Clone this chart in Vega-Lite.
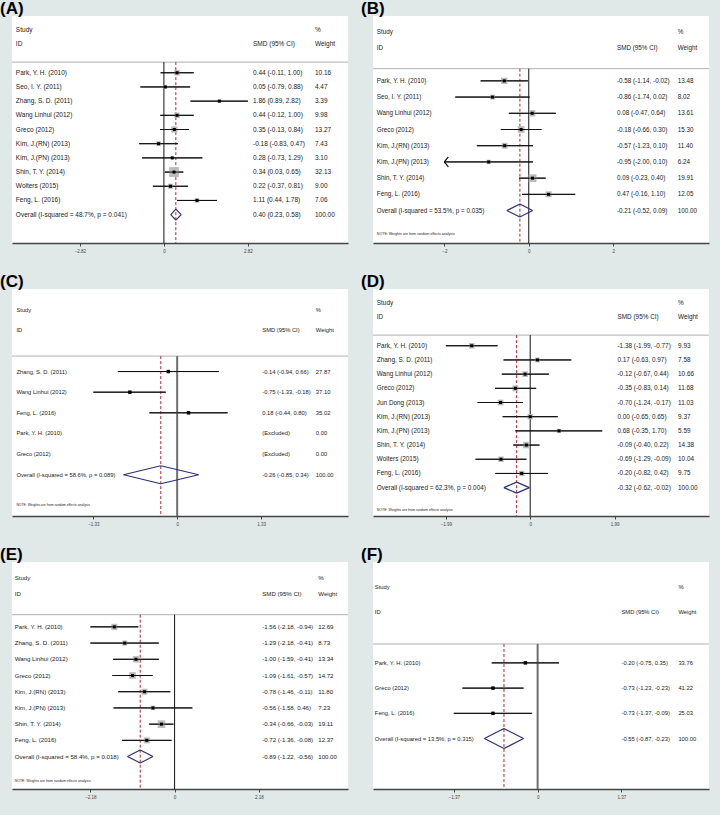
{
"$schema": "https://vega.github.io/schema/vega-lite/v6.json",
"background": "#e1e8e8",
"padding": {"left": 0, "top": 0, "right": 11, "bottom": 17},
"columns": 2,
"spacing": {"row": 46, "column": 25},
"bounds": "flush",
"config": {
 "view": {"fill": "#ffffff", "stroke": null},
 "font": "Liberation Sans",
 "title": {"fontSize": 17, "fontWeight": "bold", "font": "Liberation Sans", "anchor": "start", "dx": -12, "offset": -2, "color": "#000000", "frame": "group"},
 "axisX": {"grid": false, "domainColor": "#444444", "domainWidth": 1.3, "tickColor": "#444444", "tickSize": 3, "tickWidth": 1, "labelFontSize": 4.5, "labelColor": "#444444", "labelPadding": 2, "labelFont": "Liberation Sans"},
 "text": {"color": "#222222", "baseline": "middle", "font": "Liberation Sans"}
},
"datasets": {
 "A": [
  {"order": 1, "kind": "study", "study": "Park, Y. H. (2010)", "smd": 0.44, "lo": -0.11, "hi": 1.00, "w": 10.16, "ci": "0.44 (-0.11, 1.00)"},
  {"order": 2, "kind": "study", "study": "Seo, I. Y. (2011)", "smd": 0.05, "lo": -0.79, "hi": 0.88, "w": 4.47, "ci": "0.05 (-0.79, 0.88)"},
  {"order": 3, "kind": "study", "study": "Zhang, S. D. (2011)", "smd": 1.86, "lo": 0.89, "hi": 2.82, "w": 3.39, "ci": "1.86 (0.89, 2.82)"},
  {"order": 4, "kind": "study", "study": "Wang Linhui (2012)", "smd": 0.44, "lo": -0.12, "hi": 1.00, "w": 9.98, "ci": "0.44 (-0.12, 1.00)"},
  {"order": 5, "kind": "study", "study": "Greco (2012)", "smd": 0.35, "lo": -0.13, "hi": 0.84, "w": 13.27, "ci": "0.35 (-0.13, 0.84)"},
  {"order": 6, "kind": "study", "study": "Kim, J.(RN) (2013)", "smd": -0.18, "lo": -0.83, "hi": 0.47, "w": 7.43, "ci": "-0.18 (-0.83, 0.47)"},
  {"order": 7, "kind": "study", "study": "Kim, J.(PN) (2013)", "smd": 0.28, "lo": -0.73, "hi": 1.29, "w": 3.10, "ci": "0.28 (-0.73, 1.29)"},
  {"order": 8, "kind": "study", "study": "Shin, T. Y. (2014)", "smd": 0.34, "lo": 0.03, "hi": 0.65, "w": 32.13, "ci": "0.34 (0.03, 0.65)"},
  {"order": 9, "kind": "study", "study": "Wolters (2015)", "smd": 0.22, "lo": -0.37, "hi": 0.81, "w": 9.00, "ci": "0.22 (-0.37, 0.81)"},
  {"order": 10, "kind": "study", "study": "Feng, L. (2016)", "smd": 1.11, "lo": 0.44, "hi": 1.78, "w": 7.06, "ci": "1.11 (0.44, 1.78)"},
  {"order": 11, "kind": "overall", "study": "Overall  (I-squared = 48.7%, p = 0.041)", "smd": 0.40, "lo": 0.23, "hi": 0.58, "w": 100.00, "ci": "0.40 (0.23, 0.58)"}
 ],
 "B": [
  {"order": 1, "kind": "study", "study": "Park, Y. H. (2010)", "smd": -0.58, "lo": -1.14, "hi": -0.02, "w": 13.48, "ci": "-0.58 (-1.14, -0.02)"},
  {"order": 2, "kind": "study", "study": "Seo, I. Y. (2011)", "smd": -0.86, "lo": -1.74, "hi": 0.02, "w": 8.02, "ci": "-0.86 (-1.74, 0.02)"},
  {"order": 3, "kind": "study", "study": "Wang Linhui (2012)", "smd": 0.08, "lo": -0.47, "hi": 0.64, "w": 13.61, "ci": "0.08 (-0.47, 0.64)"},
  {"order": 4, "kind": "study", "study": "Greco (2012)", "smd": -0.18, "lo": -0.66, "hi": 0.30, "w": 15.30, "ci": "-0.18 (-0.66, 0.30)"},
  {"order": 5, "kind": "study", "study": "Kim, J.(RN) (2013)", "smd": -0.57, "lo": -1.23, "hi": 0.10, "w": 11.40, "ci": "-0.57 (-1.23, 0.10)"},
  {"order": 6, "kind": "study", "study": "Kim, J.(PN) (2013)", "smd": -0.95, "lo": -2.00, "hi": 0.10, "w": 6.24, "ci": "-0.95 (-2.00, 0.10)"},
  {"order": 7, "kind": "study", "study": "Shin, T. Y. (2014)", "smd": 0.09, "lo": -0.23, "hi": 0.40, "w": 19.91, "ci": "0.09 (-0.23, 0.40)"},
  {"order": 8, "kind": "study", "study": "Feng, L. (2016)", "smd": 0.47, "lo": -0.16, "hi": 1.10, "w": 12.05, "ci": "0.47 (-0.16, 1.10)"},
  {"order": 9, "kind": "overall", "study": "Overall  (I-squared = 53.5%, p = 0.035)", "smd": -0.21, "lo": -0.52, "hi": 0.09, "w": 100.00, "ci": "-0.21 (-0.52, 0.09)"}
 ],
 "C": [
  {"order": 1, "kind": "study", "study": "Zhang, S. D. (2011)", "smd": -0.14, "lo": -0.94, "hi": 0.66, "w": 27.87, "ci": "-0.14 (-0.94, 0.66)"},
  {"order": 2, "kind": "study", "study": "Wang Linhui (2012)", "smd": -0.75, "lo": -1.33, "hi": -0.18, "w": 37.10, "ci": "-0.75 (-1.33, -0.18)"},
  {"order": 3, "kind": "study", "study": "Feng, L. (2016)", "smd": 0.18, "lo": -0.44, "hi": 0.80, "w": 35.02, "ci": "0.18 (-0.44, 0.80)"},
  {"order": 4, "kind": "excluded", "study": "Park, Y. H. (2010)", "smd": null, "lo": null, "hi": null, "w": 0.00, "ci": "(Excluded)"},
  {"order": 5, "kind": "excluded", "study": "Greco (2012)", "smd": null, "lo": null, "hi": null, "w": 0.00, "ci": "(Excluded)"},
  {"order": 6, "kind": "overall", "study": "Overall  (I-squared = 58.6%, p = 0.089)", "smd": -0.26, "lo": -0.85, "hi": 0.34, "w": 100.00, "ci": "-0.26 (-0.85, 0.34)"}
 ],
 "D": [
  {"order": 1, "kind": "study", "study": "Park, Y. H. (2010)", "smd": -1.38, "lo": -1.99, "hi": -0.77, "w": 9.93, "ci": "-1.38 (-1.99, -0.77)"},
  {"order": 2, "kind": "study", "study": "Zhang, S. D. (2011)", "smd": 0.17, "lo": -0.63, "hi": 0.97, "w": 7.58, "ci": "0.17 (-0.63, 0.97)"},
  {"order": 3, "kind": "study", "study": "Wang Linhui (2012)", "smd": -0.12, "lo": -0.67, "hi": 0.44, "w": 10.66, "ci": "-0.12 (-0.67, 0.44)"},
  {"order": 4, "kind": "study", "study": "Greco (2012)", "smd": -0.35, "lo": -0.83, "hi": 0.14, "w": 11.68, "ci": "-0.35 (-0.83, 0.14)"},
  {"order": 5, "kind": "study", "study": "Jun Dong (2013)", "smd": -0.70, "lo": -1.24, "hi": -0.17, "w": 11.03, "ci": "-0.70 (-1.24, -0.17)"},
  {"order": 6, "kind": "study", "study": "Kim, J.(RN) (2013)", "smd": 0.00, "lo": -0.65, "hi": 0.65, "w": 9.37, "ci": "0.00 (-0.65, 0.65)"},
  {"order": 7, "kind": "study", "study": "Kim, J.(PN) (2013)", "smd": 0.68, "lo": -0.35, "hi": 1.70, "w": 5.59, "ci": "0.68 (-0.35, 1.70)"},
  {"order": 8, "kind": "study", "study": "Shin, T. Y. (2014)", "smd": -0.09, "lo": -0.40, "hi": 0.22, "w": 14.38, "ci": "-0.09 (-0.40, 0.22)"},
  {"order": 9, "kind": "study", "study": "Wolters (2015)", "smd": -0.69, "lo": -1.29, "hi": -0.09, "w": 10.04, "ci": "-0.69 (-1.29, -0.09)"},
  {"order": 10, "kind": "study", "study": "Feng, L. (2016)", "smd": -0.20, "lo": -0.82, "hi": 0.42, "w": 9.75, "ci": "-0.20 (-0.82, 0.42)"},
  {"order": 11, "kind": "overall", "study": "Overall  (I-squared = 62.3%, p = 0.004)", "smd": -0.32, "lo": -0.62, "hi": -0.02, "w": 100.00, "ci": "-0.32 (-0.62, -0.02)"}
 ],
 "E": [
  {"order": 1, "kind": "study", "study": "Park, Y. H. (2010)", "smd": -1.56, "lo": -2.18, "hi": -0.94, "w": 12.69, "ci": "-1.56 (-2.18, -0.94)"},
  {"order": 2, "kind": "study", "study": "Zhang, S. D. (2011)", "smd": -1.29, "lo": -2.18, "hi": -0.41, "w": 8.73, "ci": "-1.29 (-2.18, -0.41)"},
  {"order": 3, "kind": "study", "study": "Wang Linhui (2012)", "smd": -1.00, "lo": -1.59, "hi": -0.41, "w": 13.34, "ci": "-1.00 (-1.59, -0.41)"},
  {"order": 4, "kind": "study", "study": "Greco (2012)", "smd": -1.09, "lo": -1.61, "hi": -0.57, "w": 14.72, "ci": "-1.09 (-1.61, -0.57)"},
  {"order": 5, "kind": "study", "study": "Kim, J.(RN) (2013)", "smd": -0.78, "lo": -1.46, "hi": -0.11, "w": 11.80, "ci": "-0.78 (-1.46, -0.11)"},
  {"order": 6, "kind": "study", "study": "Kim, J.(PN) (2013)", "smd": -0.56, "lo": -1.58, "hi": 0.46, "w": 7.23, "ci": "-0.56 (-1.58, 0.46)"},
  {"order": 7, "kind": "study", "study": "Shin, T. Y. (2014)", "smd": -0.34, "lo": -0.66, "hi": -0.03, "w": 19.11, "ci": "-0.34 (-0.66, -0.03)"},
  {"order": 8, "kind": "study", "study": "Feng, L. (2016)", "smd": -0.72, "lo": -1.36, "hi": -0.08, "w": 12.37, "ci": "-0.72 (-1.36, -0.08)"},
  {"order": 9, "kind": "overall", "study": "Overall  (I-squared = 58.4%, p = 0.018)", "smd": -0.89, "lo": -1.22, "hi": -0.56, "w": 100.00, "ci": "-0.89 (-1.22, -0.56)"}
 ],
 "F": [
  {"order": 1, "kind": "study", "study": "Park, Y. H. (2010)", "smd": -0.20, "lo": -0.75, "hi": 0.35, "w": 33.76, "ci": "-0.20 (-0.75, 0.35)"},
  {"order": 2, "kind": "study", "study": "Greco (2012)", "smd": -0.73, "lo": -1.23, "hi": -0.23, "w": 41.22, "ci": "-0.73 (-1.23, -0.23)"},
  {"order": 3, "kind": "study", "study": "Feng, L. (2016)", "smd": -0.73, "lo": -1.37, "hi": -0.09, "w": 25.03, "ci": "-0.73 (-1.37, -0.09)"},
  {"order": 4, "kind": "overall", "study": "Overall  (I-squared = 13.5%, p = 0.315)", "smd": -0.55, "lo": -0.87, "hi": -0.23, "w": 100.00, "ci": "-0.55 (-0.87, -0.23)"}
 ]
},
"concat": [
 {
  "title": "(A)", "width": 336, "height": 227, "data": {"name": "A"},
  "resolve": {"axis": {"x": "independent"}},
  "layer": [
   {"data": {"values": [{}]}, "mark": {"type": "rule", "color": "#b0b0b0", "strokeWidth": 1}, "encoding": {"y": {"datum": 0.25, "type": "quantitative", "axis": null, "scale": {"domain": [-3, 13], "reverse": true, "nice": false, "zero": false}}}},
   {"transform": [{"filter": "datum.kind=='study'"}], "mark": {"type": "rule", "color": "#111111", "strokeWidth": 1}, "encoding": {"x": {"field": "lo", "type": "quantitative", "title": null, "scale": {"domain": [-5.10, 6.18], "nice": false, "zero": false}, "axis": {"orient": "bottom", "values": [-2.82, 0, 2.82], "labelExpr": "datum.value == 0 ? '0' : format(datum.value, '.2f')"}}, "x2": {"field": "hi"}, "y": {"field": "order", "type": "quantitative", "axis": null}}},
   {"data": {"values": [{}]}, "mark": {"type": "rule", "color": "#111111", "strokeWidth": 1}, "encoding": {"x": {"datum": 0, "type": "quantitative", "axis": null}, "y": {"datum": 0.25, "type": "quantitative", "axis": null}, "y2": {"datum": 13}}},
   {"data": {"values": [{}]}, "mark": {"type": "rule", "color": "#b3262f", "strokeWidth": 1, "strokeDash": [3, 2]}, "encoding": {"x": {"datum": 0.40, "type": "quantitative", "axis": null}, "y": {"datum": 0.25, "type": "quantitative", "axis": null}, "y2": {"datum": 13}}},
   {"transform": [{"filter": "datum.kind=='study'"}], "mark": {"type": "point", "shape": "square", "filled": true, "color": "#bbbbbb", "opacity": 1}, "encoding": {"x": {"field": "smd", "type": "quantitative", "axis": null}, "y": {"field": "order", "type": "quantitative", "axis": null}, "size": {"field": "w", "type": "quantitative", "scale": {"domain": [0, 100], "range": [0, 300]}, "legend": null}}},
   {"transform": [{"filter": "datum.kind=='study'"}], "mark": {"type": "rule", "color": "#111111", "strokeWidth": 1}, "encoding": {"x": {"field": "lo", "type": "quantitative", "axis": null}, "x2": {"field": "hi"}, "y": {"field": "order", "type": "quantitative", "axis": null}}},
   {"transform": [{"filter": "datum.kind=='study'"}], "mark": {"type": "point", "shape": "square", "filled": true, "color": "#000000", "size": 9, "opacity": 1}, "encoding": {"x": {"field": "smd", "type": "quantitative", "axis": null}, "y": {"field": "order", "type": "quantitative", "axis": null}}},
   {"transform": [{"filter": "datum.kind=='overall'"}], "mark": {"type": "rule", "color": "#2d2f73", "strokeWidth": 1.2, "y2Offset": -5.5}, "encoding": {"x": {"field": "lo", "type": "quantitative", "axis": null}, "x2": {"field": "smd"}, "y": {"field": "order", "type": "quantitative", "axis": null}, "y2": {"field": "order"}}},
   {"transform": [{"filter": "datum.kind=='overall'"}], "mark": {"type": "rule", "color": "#2d2f73", "strokeWidth": 1.2, "y2Offset": 5.5}, "encoding": {"x": {"field": "lo", "type": "quantitative", "axis": null}, "x2": {"field": "smd"}, "y": {"field": "order", "type": "quantitative", "axis": null}, "y2": {"field": "order"}}},
   {"transform": [{"filter": "datum.kind=='overall'"}], "mark": {"type": "rule", "color": "#2d2f73", "strokeWidth": 1.2, "y2Offset": -5.5}, "encoding": {"x": {"field": "hi", "type": "quantitative", "axis": null}, "x2": {"field": "smd"}, "y": {"field": "order", "type": "quantitative", "axis": null}, "y2": {"field": "order"}}},
   {"transform": [{"filter": "datum.kind=='overall'"}], "mark": {"type": "rule", "color": "#2d2f73", "strokeWidth": 1.2, "y2Offset": 5.5}, "encoding": {"x": {"field": "hi", "type": "quantitative", "axis": null}, "x2": {"field": "smd"}, "y": {"field": "order", "type": "quantitative", "axis": null}, "y2": {"field": "order"}}},
   {"mark": {"type": "text", "align": "left", "fontSize": 6.5}, "encoding": {"x": {"datum": -4.97, "type": "quantitative", "axis": null}, "y": {"field": "order", "type": "quantitative", "axis": null}, "text": {"field": "study"}}},
   {"mark": {"type": "text", "align": "left", "fontSize": 6.5}, "encoding": {"x": {"datum": 2.99, "type": "quantitative", "axis": null}, "y": {"field": "order", "type": "quantitative", "axis": null}, "text": {"field": "ci"}}},
   {"mark": {"type": "text", "align": "left", "fontSize": 6.5}, "encoding": {"x": {"datum": 5.07, "type": "quantitative", "axis": null}, "y": {"field": "order", "type": "quantitative", "axis": null}, "text": {"field": "w", "type": "quantitative", "format": ".2f"}}},
   {"data": {"values": [{}]}, "mark": {"type": "text", "align": "left", "fontSize": 6.5, "text": "Study"}, "encoding": {"x": {"datum": -4.97, "type": "quantitative", "axis": null}, "y": {"datum": -2, "type": "quantitative", "axis": null}}},
   {"data": {"values": [{}]}, "mark": {"type": "text", "align": "left", "fontSize": 6.5, "text": "ID"}, "encoding": {"x": {"datum": -4.97, "type": "quantitative", "axis": null}, "y": {"datum": -1, "type": "quantitative", "axis": null}}},
   {"data": {"values": [{}]}, "mark": {"type": "text", "align": "left", "fontSize": 6.5, "text": "SMD (95% CI)"}, "encoding": {"x": {"datum": 2.99, "type": "quantitative", "axis": null}, "y": {"datum": -1, "type": "quantitative", "axis": null}}},
   {"data": {"values": [{}]}, "mark": {"type": "text", "align": "left", "fontSize": 6.5, "text": "%"}, "encoding": {"x": {"datum": 5.07, "type": "quantitative", "axis": null}, "y": {"datum": -2, "type": "quantitative", "axis": null}}},
   {"data": {"values": [{}]}, "mark": {"type": "text", "align": "left", "fontSize": 6.5, "text": "Weight"}, "encoding": {"x": {"datum": 5.07, "type": "quantitative", "axis": null}, "y": {"datum": -1, "type": "quantitative", "axis": null}}}
  ]
 },
 {
  "title": "(B)", "width": 336, "height": 227, "data": {"name": "B"},
  "resolve": {"axis": {"x": "independent"}},
  "layer": [
   {"data": {"values": [{}]}, "mark": {"type": "rule", "color": "#b0b0b0", "strokeWidth": 1}, "encoding": {"y": {"datum": 0.25, "type": "quantitative", "axis": null, "scale": {"domain": [-3, 11], "reverse": true, "nice": false, "zero": false}}}},
   {"transform": [{"filter": "datum.kind=='study'"}], "mark": {"type": "rule", "color": "#111111", "strokeWidth": 1}, "encoding": {"x": {"field": "lo", "type": "quantitative", "title": null, "scale": {"domain": [-3.69, 4.27], "nice": false, "zero": false}, "axis": {"orient": "bottom", "values": [-2, 0, 2], "labelExpr": "format(datum.value, 'd')"}}, "x2": {"field": "hi"}, "y": {"field": "order", "type": "quantitative", "axis": null}}},
   {"data": {"values": [{}]}, "mark": {"type": "rule", "color": "#111111", "strokeWidth": 1}, "encoding": {"x": {"datum": 0, "type": "quantitative", "axis": null}, "y": {"datum": 0.25, "type": "quantitative", "axis": null}, "y2": {"datum": 11}}},
   {"data": {"values": [{}]}, "mark": {"type": "rule", "color": "#b3262f", "strokeWidth": 1, "strokeDash": [3, 2]}, "encoding": {"x": {"datum": -0.21, "type": "quantitative", "axis": null}, "y": {"datum": 0.25, "type": "quantitative", "axis": null}, "y2": {"datum": 11}}},
   {"transform": [{"filter": "datum.kind=='study'"}], "mark": {"type": "point", "shape": "square", "filled": true, "color": "#bbbbbb", "opacity": 1}, "encoding": {"x": {"field": "smd", "type": "quantitative", "axis": null}, "y": {"field": "order", "type": "quantitative", "axis": null}, "size": {"field": "w", "type": "quantitative", "scale": {"domain": [0, 100], "range": [0, 160]}, "legend": null}}},
   {"transform": [{"filter": "datum.kind=='study'"}], "mark": {"type": "rule", "color": "#111111", "strokeWidth": 1}, "encoding": {"x": {"field": "lo", "type": "quantitative", "axis": null}, "x2": {"field": "hi"}, "y": {"field": "order", "type": "quantitative", "axis": null}}},
   {"transform": [{"filter": "datum.kind=='study' && datum.lo <= -2"}], "mark": {"type": "point", "shape": "M0,0L0.8,-1M0,0L0.8,1", "filled": false, "color": "#111111", "strokeWidth": 1.2, "size": 100, "opacity": 1}, "encoding": {"x": {"field": "lo", "type": "quantitative", "axis": null}, "y": {"field": "order", "type": "quantitative", "axis": null}}},
   {"transform": [{"filter": "datum.kind=='study'"}], "mark": {"type": "point", "shape": "square", "filled": true, "color": "#000000", "size": 9, "opacity": 1}, "encoding": {"x": {"field": "smd", "type": "quantitative", "axis": null}, "y": {"field": "order", "type": "quantitative", "axis": null}}},
   {"transform": [{"filter": "datum.kind=='overall'"}], "mark": {"type": "rule", "color": "#2d2f73", "strokeWidth": 1.2, "y2Offset": -6.5}, "encoding": {"x": {"field": "lo", "type": "quantitative", "axis": null}, "x2": {"field": "smd"}, "y": {"field": "order", "type": "quantitative", "axis": null}, "y2": {"field": "order"}}},
   {"transform": [{"filter": "datum.kind=='overall'"}], "mark": {"type": "rule", "color": "#2d2f73", "strokeWidth": 1.2, "y2Offset": 6.5}, "encoding": {"x": {"field": "lo", "type": "quantitative", "axis": null}, "x2": {"field": "smd"}, "y": {"field": "order", "type": "quantitative", "axis": null}, "y2": {"field": "order"}}},
   {"transform": [{"filter": "datum.kind=='overall'"}], "mark": {"type": "rule", "color": "#2d2f73", "strokeWidth": 1.2, "y2Offset": -6.5}, "encoding": {"x": {"field": "hi", "type": "quantitative", "axis": null}, "x2": {"field": "smd"}, "y": {"field": "order", "type": "quantitative", "axis": null}, "y2": {"field": "order"}}},
   {"transform": [{"filter": "datum.kind=='overall'"}], "mark": {"type": "rule", "color": "#2d2f73", "strokeWidth": 1.2, "y2Offset": 6.5}, "encoding": {"x": {"field": "hi", "type": "quantitative", "axis": null}, "x2": {"field": "smd"}, "y": {"field": "order", "type": "quantitative", "axis": null}, "y2": {"field": "order"}}},
   {"mark": {"type": "text", "align": "left", "fontSize": 6.3}, "encoding": {"x": {"datum": -3.60, "type": "quantitative", "axis": null}, "y": {"field": "order", "type": "quantitative", "axis": null}, "text": {"field": "study"}}},
   {"mark": {"type": "text", "align": "left", "fontSize": 6.3}, "encoding": {"x": {"datum": 2.09, "type": "quantitative", "axis": null}, "y": {"field": "order", "type": "quantitative", "axis": null}, "text": {"field": "ci"}}},
   {"mark": {"type": "text", "align": "left", "fontSize": 6.3}, "encoding": {"x": {"datum": 3.53, "type": "quantitative", "axis": null}, "y": {"field": "order", "type": "quantitative", "axis": null}, "text": {"field": "w", "type": "quantitative", "format": ".2f"}}},
   {"data": {"values": [{}]}, "mark": {"type": "text", "align": "left", "fontSize": 6.3, "text": "Study"}, "encoding": {"x": {"datum": -3.60, "type": "quantitative", "axis": null}, "y": {"datum": -2, "type": "quantitative", "axis": null}}},
   {"data": {"values": [{}]}, "mark": {"type": "text", "align": "left", "fontSize": 6.3, "text": "ID"}, "encoding": {"x": {"datum": -3.60, "type": "quantitative", "axis": null}, "y": {"datum": -1, "type": "quantitative", "axis": null}}},
   {"data": {"values": [{}]}, "mark": {"type": "text", "align": "left", "fontSize": 6.3, "text": "SMD (95% CI)"}, "encoding": {"x": {"datum": 2.09, "type": "quantitative", "axis": null}, "y": {"datum": -1, "type": "quantitative", "axis": null}}},
   {"data": {"values": [{}]}, "mark": {"type": "text", "align": "left", "fontSize": 6.3, "text": "%"}, "encoding": {"x": {"datum": 3.53, "type": "quantitative", "axis": null}, "y": {"datum": -2, "type": "quantitative", "axis": null}}},
   {"data": {"values": [{}]}, "mark": {"type": "text", "align": "left", "fontSize": 6.3, "text": "Weight"}, "encoding": {"x": {"datum": 3.53, "type": "quantitative", "axis": null}, "y": {"datum": -1, "type": "quantitative", "axis": null}}},
   {"data": {"values": [{}]}, "mark": {"type": "text", "align": "left", "fontSize": 3.6, "text": "NOTE: Weights are from random effects analysis"}, "encoding": {"x": {"datum": -3.60, "type": "quantitative", "axis": null}, "y": {"datum": 10.45, "type": "quantitative", "axis": null}}}
  ]
 },
 {
  "title": "(C)", "width": 336, "height": 227, "data": {"name": "C"},
  "resolve": {"axis": {"x": "independent"}},
  "layer": [
   {"data": {"values": [{}]}, "mark": {"type": "rule", "color": "#b0b0b0", "strokeWidth": 1}, "encoding": {"y": {"datum": 0.25, "type": "quantitative", "axis": null, "scale": {"domain": [-3, 8], "reverse": true, "nice": false, "zero": false}}}},
   {"transform": [{"filter": "datum.kind=='study'"}], "mark": {"type": "rule", "color": "#111111", "strokeWidth": 1}, "encoding": {"x": {"field": "lo", "type": "quantitative", "title": null, "scale": {"domain": [-2.62, 2.71], "nice": false, "zero": false}, "axis": {"orient": "bottom", "values": [-1.33, 0, 1.33], "labelExpr": "datum.value == 0 ? '0' : format(datum.value, '.2f')"}}, "x2": {"field": "hi"}, "y": {"field": "order", "type": "quantitative", "axis": null}}},
   {"data": {"values": [{}]}, "mark": {"type": "rule", "color": "#6e6e6e", "strokeWidth": 2}, "encoding": {"x": {"datum": 0, "type": "quantitative", "axis": null}, "y": {"datum": 0.25, "type": "quantitative", "axis": null}, "y2": {"datum": 8}}},
   {"data": {"values": [{}]}, "mark": {"type": "rule", "color": "#b3262f", "strokeWidth": 1, "strokeDash": [3, 2]}, "encoding": {"x": {"datum": -0.26, "type": "quantitative", "axis": null}, "y": {"datum": 0.25, "type": "quantitative", "axis": null}, "y2": {"datum": 8}}},
   {"transform": [{"filter": "datum.kind=='study'"}], "mark": {"type": "rule", "color": "#111111", "strokeWidth": 1}, "encoding": {"x": {"field": "lo", "type": "quantitative", "axis": null}, "x2": {"field": "hi"}, "y": {"field": "order", "type": "quantitative", "axis": null}}},
   {"transform": [{"filter": "datum.kind=='study'"}], "mark": {"type": "point", "shape": "square", "filled": true, "color": "#000000", "size": 12, "opacity": 1}, "encoding": {"x": {"field": "smd", "type": "quantitative", "axis": null}, "y": {"field": "order", "type": "quantitative", "axis": null}}},
   {"transform": [{"filter": "datum.kind=='overall'"}], "mark": {"type": "rule", "color": "#2d2f73", "strokeWidth": 1.2, "y2Offset": -9}, "encoding": {"x": {"field": "lo", "type": "quantitative", "axis": null}, "x2": {"field": "smd"}, "y": {"field": "order", "type": "quantitative", "axis": null}, "y2": {"field": "order"}}},
   {"transform": [{"filter": "datum.kind=='overall'"}], "mark": {"type": "rule", "color": "#2d2f73", "strokeWidth": 1.2, "y2Offset": 9}, "encoding": {"x": {"field": "lo", "type": "quantitative", "axis": null}, "x2": {"field": "smd"}, "y": {"field": "order", "type": "quantitative", "axis": null}, "y2": {"field": "order"}}},
   {"transform": [{"filter": "datum.kind=='overall'"}], "mark": {"type": "rule", "color": "#2d2f73", "strokeWidth": 1.2, "y2Offset": -9}, "encoding": {"x": {"field": "hi", "type": "quantitative", "axis": null}, "x2": {"field": "smd"}, "y": {"field": "order", "type": "quantitative", "axis": null}, "y2": {"field": "order"}}},
   {"transform": [{"filter": "datum.kind=='overall'"}], "mark": {"type": "rule", "color": "#2d2f73", "strokeWidth": 1.2, "y2Offset": 9}, "encoding": {"x": {"field": "hi", "type": "quantitative", "axis": null}, "x2": {"field": "smd"}, "y": {"field": "order", "type": "quantitative", "axis": null}, "y2": {"field": "order"}}},
   {"mark": {"type": "text", "align": "left", "fontSize": 5.8}, "encoding": {"x": {"datum": -2.55, "type": "quantitative", "axis": null}, "y": {"field": "order", "type": "quantitative", "axis": null}, "text": {"field": "study"}}},
   {"mark": {"type": "text", "align": "left", "fontSize": 5.8}, "encoding": {"x": {"datum": 1.35, "type": "quantitative", "axis": null}, "y": {"field": "order", "type": "quantitative", "axis": null}, "text": {"field": "ci"}}},
   {"mark": {"type": "text", "align": "left", "fontSize": 5.8}, "encoding": {"x": {"datum": 2.20, "type": "quantitative", "axis": null}, "y": {"field": "order", "type": "quantitative", "axis": null}, "text": {"field": "w", "type": "quantitative", "format": ".2f"}}},
   {"data": {"values": [{}]}, "mark": {"type": "text", "align": "left", "fontSize": 5.8, "text": "Study"}, "encoding": {"x": {"datum": -2.55, "type": "quantitative", "axis": null}, "y": {"datum": -2, "type": "quantitative", "axis": null}}},
   {"data": {"values": [{}]}, "mark": {"type": "text", "align": "left", "fontSize": 5.8, "text": "ID"}, "encoding": {"x": {"datum": -2.55, "type": "quantitative", "axis": null}, "y": {"datum": -1, "type": "quantitative", "axis": null}}},
   {"data": {"values": [{}]}, "mark": {"type": "text", "align": "left", "fontSize": 5.8, "text": "SMD (95% CI)"}, "encoding": {"x": {"datum": 1.35, "type": "quantitative", "axis": null}, "y": {"datum": -1, "type": "quantitative", "axis": null}}},
   {"data": {"values": [{}]}, "mark": {"type": "text", "align": "left", "fontSize": 5.8, "text": "%"}, "encoding": {"x": {"datum": 2.20, "type": "quantitative", "axis": null}, "y": {"datum": -2, "type": "quantitative", "axis": null}}},
   {"data": {"values": [{}]}, "mark": {"type": "text", "align": "left", "fontSize": 5.8, "text": "Weight"}, "encoding": {"x": {"datum": 2.20, "type": "quantitative", "axis": null}, "y": {"datum": -1, "type": "quantitative", "axis": null}}},
   {"data": {"values": [{}]}, "mark": {"type": "text", "align": "left", "fontSize": 3.4, "text": "NOTE: Weights are from random effects analysis"}, "encoding": {"x": {"datum": -2.55, "type": "quantitative", "axis": null}, "y": {"datum": 7.47, "type": "quantitative", "axis": null}}}
  ]
 },
 {
  "title": "(D)", "width": 336, "height": 227, "data": {"name": "D"},
  "resolve": {"axis": {"x": "independent"}},
  "layer": [
   {"data": {"values": [{}]}, "mark": {"type": "rule", "color": "#b0b0b0", "strokeWidth": 1}, "encoding": {"y": {"datum": 0.25, "type": "quantitative", "axis": null, "scale": {"domain": [-3, 13], "reverse": true, "nice": false, "zero": false}}}},
   {"transform": [{"filter": "datum.kind=='study'"}], "mark": {"type": "rule", "color": "#111111", "strokeWidth": 1}, "encoding": {"x": {"field": "lo", "type": "quantitative", "title": null, "scale": {"domain": [-3.71, 4.22], "nice": false, "zero": false}, "axis": {"orient": "bottom", "values": [-1.99, 0, 1.99], "labelExpr": "datum.value == 0 ? '0' : format(datum.value, '.2f')"}}, "x2": {"field": "hi"}, "y": {"field": "order", "type": "quantitative", "axis": null}}},
   {"data": {"values": [{}]}, "mark": {"type": "rule", "color": "#111111", "strokeWidth": 1}, "encoding": {"x": {"datum": 0, "type": "quantitative", "axis": null}, "y": {"datum": 0.25, "type": "quantitative", "axis": null}, "y2": {"datum": 13}}},
   {"data": {"values": [{}]}, "mark": {"type": "rule", "color": "#b3262f", "strokeWidth": 1, "strokeDash": [3, 2]}, "encoding": {"x": {"datum": -0.32, "type": "quantitative", "axis": null}, "y": {"datum": 0.25, "type": "quantitative", "axis": null}, "y2": {"datum": 13}}},
   {"transform": [{"filter": "datum.kind=='study'"}], "mark": {"type": "point", "shape": "square", "filled": true, "color": "#bbbbbb", "opacity": 1}, "encoding": {"x": {"field": "smd", "type": "quantitative", "axis": null}, "y": {"field": "order", "type": "quantitative", "axis": null}, "size": {"field": "w", "type": "quantitative", "scale": {"domain": [0, 100], "range": [0, 200]}, "legend": null}}},
   {"transform": [{"filter": "datum.kind=='study'"}], "mark": {"type": "rule", "color": "#111111", "strokeWidth": 1}, "encoding": {"x": {"field": "lo", "type": "quantitative", "axis": null}, "x2": {"field": "hi"}, "y": {"field": "order", "type": "quantitative", "axis": null}}},
   {"transform": [{"filter": "datum.kind=='study'"}], "mark": {"type": "point", "shape": "square", "filled": true, "color": "#000000", "size": 9, "opacity": 1}, "encoding": {"x": {"field": "smd", "type": "quantitative", "axis": null}, "y": {"field": "order", "type": "quantitative", "axis": null}}},
   {"transform": [{"filter": "datum.kind=='overall'"}], "mark": {"type": "rule", "color": "#2d2f73", "strokeWidth": 1.2, "y2Offset": -5.5}, "encoding": {"x": {"field": "lo", "type": "quantitative", "axis": null}, "x2": {"field": "smd"}, "y": {"field": "order", "type": "quantitative", "axis": null}, "y2": {"field": "order"}}},
   {"transform": [{"filter": "datum.kind=='overall'"}], "mark": {"type": "rule", "color": "#2d2f73", "strokeWidth": 1.2, "y2Offset": 5.5}, "encoding": {"x": {"field": "lo", "type": "quantitative", "axis": null}, "x2": {"field": "smd"}, "y": {"field": "order", "type": "quantitative", "axis": null}, "y2": {"field": "order"}}},
   {"transform": [{"filter": "datum.kind=='overall'"}], "mark": {"type": "rule", "color": "#2d2f73", "strokeWidth": 1.2, "y2Offset": -5.5}, "encoding": {"x": {"field": "hi", "type": "quantitative", "axis": null}, "x2": {"field": "smd"}, "y": {"field": "order", "type": "quantitative", "axis": null}, "y2": {"field": "order"}}},
   {"transform": [{"filter": "datum.kind=='overall'"}], "mark": {"type": "rule", "color": "#2d2f73", "strokeWidth": 1.2, "y2Offset": 5.5}, "encoding": {"x": {"field": "hi", "type": "quantitative", "axis": null}, "x2": {"field": "smd"}, "y": {"field": "order", "type": "quantitative", "axis": null}, "y2": {"field": "order"}}},
   {"mark": {"type": "text", "align": "left", "fontSize": 6.4}, "encoding": {"x": {"datum": -3.62, "type": "quantitative", "axis": null}, "y": {"field": "order", "type": "quantitative", "axis": null}, "text": {"field": "study"}}},
   {"mark": {"type": "text", "align": "left", "fontSize": 6.4}, "encoding": {"x": {"datum": 2.06, "type": "quantitative", "axis": null}, "y": {"field": "order", "type": "quantitative", "axis": null}, "text": {"field": "ci"}}},
   {"mark": {"type": "text", "align": "left", "fontSize": 6.4}, "encoding": {"x": {"datum": 3.49, "type": "quantitative", "axis": null}, "y": {"field": "order", "type": "quantitative", "axis": null}, "text": {"field": "w", "type": "quantitative", "format": ".2f"}}},
   {"data": {"values": [{}]}, "mark": {"type": "text", "align": "left", "fontSize": 6.4, "text": "Study"}, "encoding": {"x": {"datum": -3.62, "type": "quantitative", "axis": null}, "y": {"datum": -2, "type": "quantitative", "axis": null}}},
   {"data": {"values": [{}]}, "mark": {"type": "text", "align": "left", "fontSize": 6.4, "text": "ID"}, "encoding": {"x": {"datum": -3.62, "type": "quantitative", "axis": null}, "y": {"datum": -1, "type": "quantitative", "axis": null}}},
   {"data": {"values": [{}]}, "mark": {"type": "text", "align": "left", "fontSize": 6.4, "text": "SMD (95% CI)"}, "encoding": {"x": {"datum": 2.06, "type": "quantitative", "axis": null}, "y": {"datum": -1, "type": "quantitative", "axis": null}}},
   {"data": {"values": [{}]}, "mark": {"type": "text", "align": "left", "fontSize": 6.4, "text": "%"}, "encoding": {"x": {"datum": 3.49, "type": "quantitative", "axis": null}, "y": {"datum": -2, "type": "quantitative", "axis": null}}},
   {"data": {"values": [{}]}, "mark": {"type": "text", "align": "left", "fontSize": 6.4, "text": "Weight"}, "encoding": {"x": {"datum": 3.49, "type": "quantitative", "axis": null}, "y": {"datum": -1, "type": "quantitative", "axis": null}}},
   {"data": {"values": [{}]}, "mark": {"type": "text", "align": "left", "fontSize": 3.5, "text": "NOTE: Weights are from random effects analysis"}, "encoding": {"x": {"datum": -3.62, "type": "quantitative", "axis": null}, "y": {"datum": 12.55, "type": "quantitative", "axis": null}}}
  ]
 },
 {
  "title": "(E)", "width": 336, "height": 227, "data": {"name": "E"},
  "resolve": {"axis": {"x": "independent"}},
  "layer": [
   {"data": {"values": [{}]}, "mark": {"type": "rule", "color": "#b0b0b0", "strokeWidth": 1}, "encoding": {"y": {"datum": 0.25, "type": "quantitative", "axis": null, "scale": {"domain": [-3, 11], "reverse": true, "nice": false, "zero": false}}}},
   {"transform": [{"filter": "datum.kind=='study'"}], "mark": {"type": "rule", "color": "#111111", "strokeWidth": 1}, "encoding": {"x": {"field": "lo", "type": "quantitative", "title": null, "scale": {"domain": [-4.21, 4.49], "nice": false, "zero": false}, "axis": {"orient": "bottom", "values": [-2.18, 0, 2.18], "labelExpr": "datum.value == 0 ? '0' : format(datum.value, '.2f')"}}, "x2": {"field": "hi"}, "y": {"field": "order", "type": "quantitative", "axis": null}}},
   {"data": {"values": [{}]}, "mark": {"type": "rule", "color": "#111111", "strokeWidth": 1}, "encoding": {"x": {"datum": 0, "type": "quantitative", "axis": null}, "y": {"datum": 0.25, "type": "quantitative", "axis": null}, "y2": {"datum": 11}}},
   {"data": {"values": [{}]}, "mark": {"type": "rule", "color": "#b3262f", "strokeWidth": 1, "strokeDash": [3, 2]}, "encoding": {"x": {"datum": -0.89, "type": "quantitative", "axis": null}, "y": {"datum": 0.25, "type": "quantitative", "axis": null}, "y2": {"datum": 11}}},
   {"transform": [{"filter": "datum.kind=='study'"}], "mark": {"type": "point", "shape": "square", "filled": true, "color": "#bbbbbb", "opacity": 1}, "encoding": {"x": {"field": "smd", "type": "quantitative", "axis": null}, "y": {"field": "order", "type": "quantitative", "axis": null}, "size": {"field": "w", "type": "quantitative", "scale": {"domain": [0, 100], "range": [0, 210]}, "legend": null}}},
   {"transform": [{"filter": "datum.kind=='study'"}], "mark": {"type": "rule", "color": "#111111", "strokeWidth": 1}, "encoding": {"x": {"field": "lo", "type": "quantitative", "axis": null}, "x2": {"field": "hi"}, "y": {"field": "order", "type": "quantitative", "axis": null}}},
   {"transform": [{"filter": "datum.kind=='study'"}], "mark": {"type": "point", "shape": "square", "filled": true, "color": "#000000", "size": 9, "opacity": 1}, "encoding": {"x": {"field": "smd", "type": "quantitative", "axis": null}, "y": {"field": "order", "type": "quantitative", "axis": null}}},
   {"transform": [{"filter": "datum.kind=='overall'"}], "mark": {"type": "rule", "color": "#2d2f73", "strokeWidth": 1.2, "y2Offset": -6.5}, "encoding": {"x": {"field": "lo", "type": "quantitative", "axis": null}, "x2": {"field": "smd"}, "y": {"field": "order", "type": "quantitative", "axis": null}, "y2": {"field": "order"}}},
   {"transform": [{"filter": "datum.kind=='overall'"}], "mark": {"type": "rule", "color": "#2d2f73", "strokeWidth": 1.2, "y2Offset": 6.5}, "encoding": {"x": {"field": "lo", "type": "quantitative", "axis": null}, "x2": {"field": "smd"}, "y": {"field": "order", "type": "quantitative", "axis": null}, "y2": {"field": "order"}}},
   {"transform": [{"filter": "datum.kind=='overall'"}], "mark": {"type": "rule", "color": "#2d2f73", "strokeWidth": 1.2, "y2Offset": -6.5}, "encoding": {"x": {"field": "hi", "type": "quantitative", "axis": null}, "x2": {"field": "smd"}, "y": {"field": "order", "type": "quantitative", "axis": null}, "y2": {"field": "order"}}},
   {"transform": [{"filter": "datum.kind=='overall'"}], "mark": {"type": "rule", "color": "#2d2f73", "strokeWidth": 1.2, "y2Offset": 6.5}, "encoding": {"x": {"field": "hi", "type": "quantitative", "axis": null}, "x2": {"field": "smd"}, "y": {"field": "order", "type": "quantitative", "axis": null}, "y2": {"field": "order"}}},
   {"mark": {"type": "text", "align": "left", "fontSize": 6.1}, "encoding": {"x": {"datum": -4.14, "type": "quantitative", "axis": null}, "y": {"field": "order", "type": "quantitative", "axis": null}, "text": {"field": "study"}}},
   {"mark": {"type": "text", "align": "left", "fontSize": 6.1}, "encoding": {"x": {"datum": 2.27, "type": "quantitative", "axis": null}, "y": {"field": "order", "type": "quantitative", "axis": null}, "text": {"field": "ci"}}},
   {"mark": {"type": "text", "align": "left", "fontSize": 6.1}, "encoding": {"x": {"datum": 3.72, "type": "quantitative", "axis": null}, "y": {"field": "order", "type": "quantitative", "axis": null}, "text": {"field": "w", "type": "quantitative", "format": ".2f"}}},
   {"data": {"values": [{}]}, "mark": {"type": "text", "align": "left", "fontSize": 6.1, "text": "Study"}, "encoding": {"x": {"datum": -4.14, "type": "quantitative", "axis": null}, "y": {"datum": -2, "type": "quantitative", "axis": null}}},
   {"data": {"values": [{}]}, "mark": {"type": "text", "align": "left", "fontSize": 6.1, "text": "ID"}, "encoding": {"x": {"datum": -4.14, "type": "quantitative", "axis": null}, "y": {"datum": -1, "type": "quantitative", "axis": null}}},
   {"data": {"values": [{}]}, "mark": {"type": "text", "align": "left", "fontSize": 6.1, "text": "SMD (95% CI)"}, "encoding": {"x": {"datum": 2.27, "type": "quantitative", "axis": null}, "y": {"datum": -1, "type": "quantitative", "axis": null}}},
   {"data": {"values": [{}]}, "mark": {"type": "text", "align": "left", "fontSize": 6.1, "text": "%"}, "encoding": {"x": {"datum": 3.72, "type": "quantitative", "axis": null}, "y": {"datum": -2, "type": "quantitative", "axis": null}}},
   {"data": {"values": [{}]}, "mark": {"type": "text", "align": "left", "fontSize": 6.1, "text": "Weight"}, "encoding": {"x": {"datum": 3.72, "type": "quantitative", "axis": null}, "y": {"datum": -1, "type": "quantitative", "axis": null}}},
   {"data": {"values": [{}]}, "mark": {"type": "text", "align": "left", "fontSize": 3.5, "text": "NOTE: Weights are from random effects analysis"}, "encoding": {"x": {"datum": -4.14, "type": "quantitative", "axis": null}, "y": {"datum": 10.5, "type": "quantitative", "axis": null}}}
  ]
 },
 {
  "title": "(F)", "width": 336, "height": 227, "data": {"name": "F"},
  "resolve": {"axis": {"x": "independent"}},
  "layer": [
   {"data": {"values": [{}]}, "mark": {"type": "rule", "color": "#b0b0b0", "strokeWidth": 1}, "encoding": {"y": {"datum": 0.25, "type": "quantitative", "axis": null, "scale": {"domain": [-3, 6], "reverse": true, "nice": false, "zero": false}}}},
   {"transform": [{"filter": "datum.kind=='study'"}], "mark": {"type": "rule", "color": "#111111", "strokeWidth": 1}, "encoding": {"x": {"field": "lo", "type": "quantitative", "title": null, "scale": {"domain": [-2.69, 2.80], "nice": false, "zero": false}, "axis": {"orient": "bottom", "values": [-1.37, 0, 1.37], "labelExpr": "datum.value == 0 ? '0' : format(datum.value, '.2f')"}}, "x2": {"field": "hi"}, "y": {"field": "order", "type": "quantitative", "axis": null}}},
   {"data": {"values": [{}]}, "mark": {"type": "rule", "color": "#6e6e6e", "strokeWidth": 2}, "encoding": {"x": {"datum": 0, "type": "quantitative", "axis": null}, "y": {"datum": 0.25, "type": "quantitative", "axis": null}, "y2": {"datum": 6}}},
   {"data": {"values": [{}]}, "mark": {"type": "rule", "color": "#b3262f", "strokeWidth": 1, "strokeDash": [3, 2]}, "encoding": {"x": {"datum": -0.55, "type": "quantitative", "axis": null}, "y": {"datum": 0.25, "type": "quantitative", "axis": null}, "y2": {"datum": 6}}},
   {"transform": [{"filter": "datum.kind=='study'"}], "mark": {"type": "rule", "color": "#111111", "strokeWidth": 1}, "encoding": {"x": {"field": "lo", "type": "quantitative", "axis": null}, "x2": {"field": "hi"}, "y": {"field": "order", "type": "quantitative", "axis": null}}},
   {"transform": [{"filter": "datum.kind=='study'"}], "mark": {"type": "point", "shape": "square", "filled": true, "color": "#000000", "size": 12, "opacity": 1}, "encoding": {"x": {"field": "smd", "type": "quantitative", "axis": null}, "y": {"field": "order", "type": "quantitative", "axis": null}}},
   {"transform": [{"filter": "datum.kind=='overall'"}], "mark": {"type": "rule", "color": "#2d2f73", "strokeWidth": 1.2, "y2Offset": -10}, "encoding": {"x": {"field": "lo", "type": "quantitative", "axis": null}, "x2": {"field": "smd"}, "y": {"field": "order", "type": "quantitative", "axis": null}, "y2": {"field": "order"}}},
   {"transform": [{"filter": "datum.kind=='overall'"}], "mark": {"type": "rule", "color": "#2d2f73", "strokeWidth": 1.2, "y2Offset": 10}, "encoding": {"x": {"field": "lo", "type": "quantitative", "axis": null}, "x2": {"field": "smd"}, "y": {"field": "order", "type": "quantitative", "axis": null}, "y2": {"field": "order"}}},
   {"transform": [{"filter": "datum.kind=='overall'"}], "mark": {"type": "rule", "color": "#2d2f73", "strokeWidth": 1.2, "y2Offset": -10}, "encoding": {"x": {"field": "hi", "type": "quantitative", "axis": null}, "x2": {"field": "smd"}, "y": {"field": "order", "type": "quantitative", "axis": null}, "y2": {"field": "order"}}},
   {"transform": [{"filter": "datum.kind=='overall'"}], "mark": {"type": "rule", "color": "#2d2f73", "strokeWidth": 1.2, "y2Offset": 10}, "encoding": {"x": {"field": "hi", "type": "quantitative", "axis": null}, "x2": {"field": "smd"}, "y": {"field": "order", "type": "quantitative", "axis": null}, "y2": {"field": "order"}}},
   {"mark": {"type": "text", "align": "left", "fontSize": 5.8}, "encoding": {"x": {"datum": -2.66, "type": "quantitative", "axis": null}, "y": {"field": "order", "type": "quantitative", "axis": null}, "text": {"field": "study"}}},
   {"mark": {"type": "text", "align": "left", "fontSize": 5.8}, "encoding": {"x": {"datum": 1.37, "type": "quantitative", "axis": null}, "y": {"field": "order", "type": "quantitative", "axis": null}, "text": {"field": "ci"}}},
   {"mark": {"type": "text", "align": "left", "fontSize": 5.8}, "encoding": {"x": {"datum": 2.30, "type": "quantitative", "axis": null}, "y": {"field": "order", "type": "quantitative", "axis": null}, "text": {"field": "w", "type": "quantitative", "format": ".2f"}}},
   {"data": {"values": [{}]}, "mark": {"type": "text", "align": "left", "fontSize": 5.8, "text": "Study"}, "encoding": {"x": {"datum": -2.66, "type": "quantitative", "axis": null}, "y": {"datum": -2, "type": "quantitative", "axis": null}}},
   {"data": {"values": [{}]}, "mark": {"type": "text", "align": "left", "fontSize": 5.8, "text": "ID"}, "encoding": {"x": {"datum": -2.66, "type": "quantitative", "axis": null}, "y": {"datum": -1, "type": "quantitative", "axis": null}}},
   {"data": {"values": [{}]}, "mark": {"type": "text", "align": "left", "fontSize": 5.8, "text": "SMD (95% CI)"}, "encoding": {"x": {"datum": 1.37, "type": "quantitative", "axis": null}, "y": {"datum": -1, "type": "quantitative", "axis": null}}},
   {"data": {"values": [{}]}, "mark": {"type": "text", "align": "left", "fontSize": 5.8, "text": "%"}, "encoding": {"x": {"datum": 2.30, "type": "quantitative", "axis": null}, "y": {"datum": -2, "type": "quantitative", "axis": null}}},
   {"data": {"values": [{}]}, "mark": {"type": "text", "align": "left", "fontSize": 5.8, "text": "Weight"}, "encoding": {"x": {"datum": 2.30, "type": "quantitative", "axis": null}, "y": {"datum": -1, "type": "quantitative", "axis": null}}}
  ]
 }
]
}
